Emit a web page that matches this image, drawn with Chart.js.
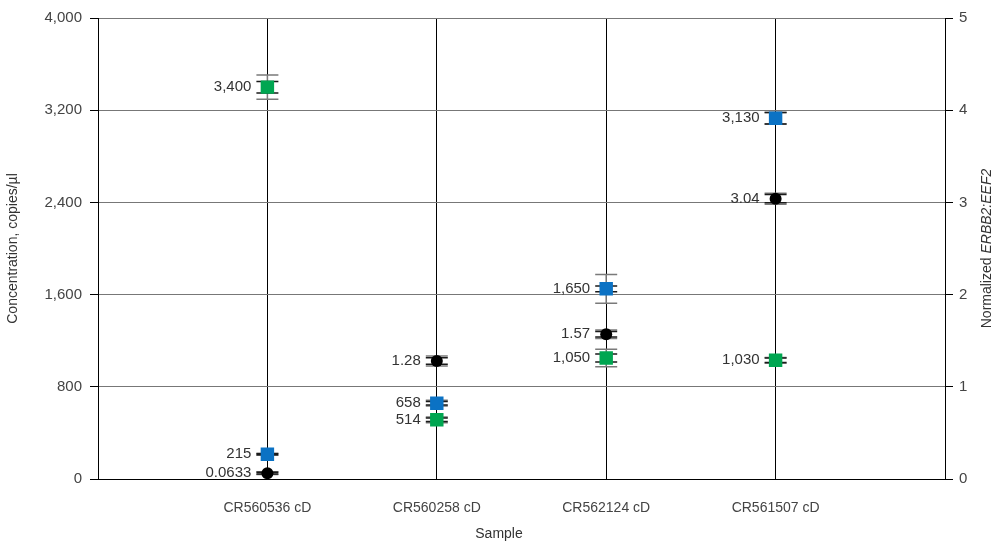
<!DOCTYPE html>
<html>
<head>
<meta charset="utf-8">
<script src="https://cdn.jsdelivr.net/npm/chart.js@4"></script>
<style>
  html, body { margin: 0; padding: 0; background: #fff; }
  #wrap { width: 997px; height: 543px; }
</style>
</head>
<body>
<div id="wrap"><canvas id="ddpcrChart" width="997" height="543"></canvas></div>
<script>
// samples on the x axis
var samples = ['CR560536 cD', 'CR560258 cD', 'CR562124 cD', 'CR561507 cD'];

// ERBB2 concentration (blue squares, left axis)
var erbb2 = [215, 658, 1650, 3130];
var erbb2Inner = [5, 15, 25, 50];
var erbb2Outer = [8, 25, 125, 50];

// EEF2 concentration (green squares, left axis)
var eef2 = [3400, 514, 1050, 1030];
var eef2Inner = [50, 15, 35, 20];
var eef2Outer = [105, 25, 75, 25];

// normalized ERBB2:EEF2 (black dots, right axis)
var ratio = [0.0633, 1.28, 1.57, 3.04];
var ratioLabels = ['0.0633', '1.28', '1.57', '3.04'];
var ratioInner = [0.01, 0.035, 0.03, 0.045];
var ratioOuter = [0.015, 0.055, 0.045, 0.06];

// left and right tick values
var concTicks = [0, 800, 1600, 2400, 3200, 4000];
var ratioTicks = [0, 1, 2, 3, 4, 5];

var FONT = "'Liberation Sans', Arial, sans-serif";
var TXT = 15;

// pad with an empty slot on each side so the samples sit at 1..4 of 0..5
function pad(arr) { return [null].concat(arr).concat([null]); }

var errorBars = {
    id: 'errorBars',
    beforeDatasetsDraw: function (chart) {
        var ctx = chart.ctx;
        chart.data.datasets.forEach(function (ds, i) {
            var meta = chart.getDatasetMeta(i);
            var scale = chart.scales[ds.yAxisID];
            meta.data.forEach(function (pt, j) {
                var v = ds.data[j];
                if (v == null) return;
                var x = pt.x;
                [[ds.outer[j - 1], '#7a7a7a'], [ds.inner[j - 1], '#1a1a1a']].forEach(function (e) {
                    var top = scale.getPixelForValue(v + e[0]);
                    var bot = scale.getPixelForValue(v - e[0]);
                    ctx.save();
                    ctx.strokeStyle = e[1];
                    ctx.lineWidth = 1.5;
                    ctx.beginPath();
                    ctx.moveTo(x - 11, top); ctx.lineTo(x + 11, top);
                    ctx.moveTo(x - 11, bot); ctx.lineTo(x + 11, bot);
                    ctx.moveTo(x, top); ctx.lineTo(x, bot);
                    ctx.stroke();
                    ctx.restore();
                });
            });
        });
    },
    afterDatasetsDraw: function (chart) {
        var ctx = chart.ctx;
        ctx.save();
        ctx.font = TXT + 'px ' + FONT;
        ctx.fillStyle = '#333';
        ctx.textAlign = 'right';
        ctx.textBaseline = 'middle';
        chart.data.datasets.forEach(function (ds, i) {
            var meta = chart.getDatasetMeta(i);
            meta.data.forEach(function (pt, j) {
                if (ds.data[j] == null) return;
                ctx.fillText(ds.labelText[j - 1], pt.x - 16, pt.y);
            });
        });
        ctx.restore();
    },
    afterDraw: function (chart) {
        var ctx = chart.ctx;
        var area = chart.chartArea;
        // x axis title, centred on the page
        ctx.save();
        ctx.fillStyle = '#333';
        ctx.font = '14px ' + FONT;
        ctx.textAlign = 'center';
        ctx.textBaseline = 'middle';
        ctx.fillText('Sample', 499, 534);
        ctx.restore();
        // right axis title with the gene names in italics
        var a = 'Normalized ', b = 'ERBB2:EEF2';
        ctx.save();
        ctx.translate(987, (area.top + area.bottom) / 2);
        ctx.rotate(-Math.PI / 2);
        ctx.fillStyle = '#333';
        ctx.textBaseline = 'middle';
        ctx.font = '14px ' + FONT;
        var wa = ctx.measureText(a).width;
        ctx.font = 'italic 14px ' + FONT;
        var wb = ctx.measureText(b).width;
        var start = -(wa + wb) / 2;
        ctx.textAlign = 'left';
        ctx.font = '14px ' + FONT;
        ctx.fillText(a, start, 0);
        ctx.font = 'italic 14px ' + FONT;
        ctx.fillText(b, start + wa, 0);
        ctx.restore();
    }
};

var ctx = document.getElementById('ddpcrChart');
new Chart(ctx, {
    type: 'line',
    data: {
        labels: [''].concat(samples).concat(['']),
        datasets: [{
            label: 'EEF2',
            data: pad(eef2),
            inner: eef2Inner,
            outer: eef2Outer,
            labelText: eef2.map(function (v) { return v.toLocaleString('en-US'); }),
            yAxisID: 'y',
            showLine: false,
            pointStyle: 'rect',
            pointRadius: 9.5,
            pointHoverRadius: 9.5,
            pointBackgroundColor: '#00a651',
            pointBorderColor: '#00a651',
            pointBorderWidth: 0
        }, {
            label: 'ERBB2',
            data: pad(erbb2),
            inner: erbb2Inner,
            outer: erbb2Outer,
            labelText: erbb2.map(function (v) { return v.toLocaleString('en-US'); }),
            yAxisID: 'y',
            showLine: false,
            pointStyle: 'rect',
            pointRadius: 9.5,
            pointHoverRadius: 9.5,
            pointBackgroundColor: '#0b72c4',
            pointBorderColor: '#0b72c4',
            pointBorderWidth: 0
        }, {
            label: 'ERBB2:EEF2',
            data: pad(ratio),
            inner: ratioInner,
            outer: ratioOuter,
            labelText: ratioLabels,
            yAxisID: 'y1',
            showLine: false,
            pointStyle: 'circle',
            pointRadius: 6,
            pointHoverRadius: 6,
            pointBackgroundColor: '#000',
            pointBorderColor: '#000',
            pointBorderWidth: 0
        }]
    },
    options: {
        responsive: false,
        animation: false,
        layout: { padding: { top: 18, left: 0, right: 0, bottom: 0 } },
        plugins: {
            legend: { display: false },
            tooltip: { enabled: false }
        },
        scales: {
            x: {
                type: 'category',
                offset: false,
                grid: { color: '#000', lineWidth: 1, tickLength: 0, drawTicks: false },
                border: { color: '#000' },
                ticks: {
                    color: '#444', font: { family: FONT, size: 14 },
                    padding: 21, maxRotation: 0, autoSkip: false
                },
                afterFit: function (s) { s.height = 64; }
            },
            y: {
                position: 'left',
                min: 0, max: 4000,
                afterBuildTicks: function (s) { s.ticks = concTicks.map(function (v) { return { value: v }; }); },
                grid: { color: '#777', lineWidth: 1, tickLength: 8, tickColor: '#000' },
                border: { color: '#000', width: 1 },
                ticks: {
                    color: '#444', font: { family: FONT, size: TXT }, padding: 8,
                    callback: function (v) { return Number(v).toLocaleString('en-US'); }
                },
                title: {
                    display: true, text: 'Concentration, copies/µl', color: '#333',
                    font: { family: FONT, size: 14 }, padding: { top: 5, bottom: 0 }
                },
                afterFit: function (s) { s.width = 98; }
            },
            y1: {
                position: 'right',
                min: 0, max: 5,
                afterBuildTicks: function (s) { s.ticks = ratioTicks.map(function (v) { return { value: v }; }); },
                grid: { drawOnChartArea: false, tickLength: 8, tickColor: '#000' },
                border: { color: '#000', width: 1 },
                ticks: { color: '#444', font: { family: FONT, size: TXT }, padding: 6 },
                afterFit: function (s) { s.width = 52; }
            }
        }
    },
    plugins: [errorBars]
});
</script>
</body>
</html>
